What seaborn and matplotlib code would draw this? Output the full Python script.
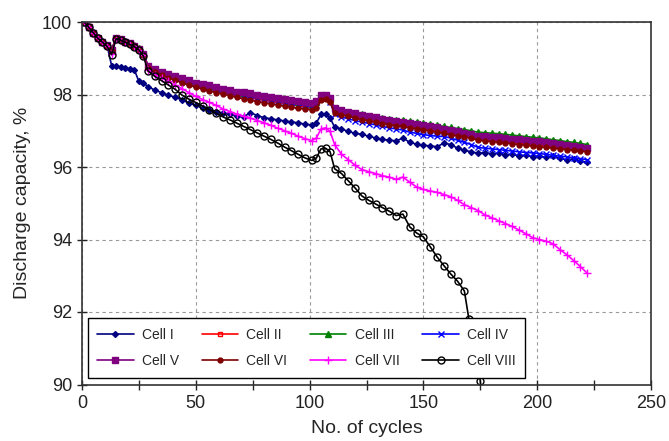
import numpy as np
import pandas as pd
import matplotlib
matplotlib.use("Agg")
import matplotlib.pyplot as plt
import seaborn as sns
from matplotlib.ticker import MultipleLocator

# ---------------- data ----------------
cycles = [1, 3, 5, 7, 9, 11, 13, 15, 17, 19, 21, 23, 25, 27,
          29, 32, 35, 38, 41, 44, 47, 50, 53, 56, 59, 62, 65, 68, 71, 74, 77, 80, 83, 86, 89, 92, 95, 98, 101,
          103, 105, 107, 109, 111,
          114, 117, 120, 123, 126, 129, 132, 135, 138, 141, 144, 147, 150, 153, 156, 159, 162, 165, 168,
          171, 174, 177, 180, 183, 186, 189, 192, 195, 198, 201, 204, 207, 210, 213, 216, 219, 222]

cycles_viii = [1, 3, 5, 7, 9, 11, 13, 15, 17, 19, 21, 23, 25, 27,
               29, 32, 35, 38, 41, 44, 47, 50, 53, 56, 59, 62, 65, 68, 71, 74, 77, 80, 83, 86, 89, 92, 95, 98, 101,
               103, 105, 107, 109, 111,
               114, 117, 120, 123, 126, 129, 132, 135, 138, 141, 144, 147, 150, 153, 156, 159, 162, 165, 168,
               170, 172, 173, 174, 175, 176]

cell_i = [100.0, 99.86, 99.71, 99.57, 99.46, 99.36, 98.80, 98.78, 98.76, 98.73, 98.71, 98.68, 98.36, 98.31,
          98.22, 98.12, 98.05, 97.98, 97.92, 97.85, 97.76, 97.70, 97.63, 97.58, 97.53, 97.49, 97.45, 97.40, 97.38,
          97.50, 97.42, 97.36, 97.33, 97.30, 97.27, 97.24, 97.22, 97.18, 97.16,
          97.22, 97.45, 97.47, 97.35, 97.10,
          97.05, 96.98, 96.93, 96.90, 96.85, 96.80, 96.76, 96.74, 96.72, 96.80, 96.68, 96.63, 96.60, 96.58, 96.56,
          96.66, 96.62, 96.52, 96.46, 96.42, 96.38, 96.40, 96.36, 96.38, 96.33, 96.35, 96.31, 96.32, 96.28, 96.30,
          96.27, 96.29, 96.24, 96.20, 96.22, 96.16, 96.13]

cell_ii = [100.0, 99.86, 99.71, 99.56, 99.46, 99.36, 99.22, 99.56, 99.52, 99.46, 99.41, 99.35, 99.26, 99.11,
           98.77, 98.67, 98.58, 98.51, 98.44, 98.37, 98.31, 98.25, 98.20, 98.16, 98.11, 98.07, 98.03, 97.98, 97.95,
           97.92, 97.87, 97.84, 97.81, 97.78, 97.75, 97.72, 97.69, 97.66, 97.64,
           97.68, 97.92, 97.93, 97.83, 97.55,
           97.48, 97.44, 97.39, 97.35, 97.31, 97.28, 97.25, 97.22, 97.19, 97.16, 97.12, 97.09, 97.06, 97.03, 97.00,
           96.97, 96.93, 96.90, 96.86, 96.82, 96.78, 96.76, 96.74, 96.72, 96.70, 96.68, 96.66, 96.64, 96.62, 96.60,
           96.58, 96.56, 96.54, 96.52, 96.50, 96.49, 96.47]

cell_iii = [100.0, 99.87, 99.72, 99.58, 99.47, 99.37, 99.23, 99.57, 99.53, 99.47, 99.42, 99.36, 99.27, 99.13,
            98.79, 98.70, 98.62, 98.56, 98.49, 98.44, 98.38, 98.32, 98.28, 98.24, 98.19, 98.15, 98.12, 98.07, 98.05,
            98.03, 97.98, 97.96, 97.92, 97.89, 97.87, 97.84, 97.80, 97.78, 97.75,
            97.80, 97.97, 97.98, 97.88, 97.62,
            97.58, 97.53, 97.49, 97.45, 97.42, 97.39, 97.36, 97.33, 97.31, 97.29, 97.26, 97.23, 97.21, 97.18, 97.15,
            97.12, 97.09, 97.06, 97.03, 97.00, 96.96, 96.95, 96.93, 96.92, 96.90, 96.88, 96.86, 96.84, 96.82, 96.80,
            96.78, 96.75, 96.73, 96.70, 96.68, 96.65, 96.62]

cell_iv = [100.0, 99.86, 99.71, 99.57, 99.46, 99.36, 99.22, 99.56, 99.52, 99.46, 99.41, 99.35, 99.26, 99.12,
           98.78, 98.68, 98.60, 98.53, 98.46, 98.40, 98.34, 98.28, 98.23, 98.19, 98.14, 98.10, 98.06, 98.02, 97.99,
           97.96, 97.91, 97.88, 97.85, 97.82, 97.79, 97.76, 97.72, 97.70, 97.67,
           97.70, 97.90, 97.92, 97.80, 97.45,
           97.38, 97.33, 97.28, 97.24, 97.20, 97.16, 97.12, 97.08, 97.05, 97.02, 96.96, 96.93, 96.89, 96.87, 96.85,
           96.84, 96.80, 96.74, 96.68, 96.62, 96.54, 96.52, 96.50, 96.48, 96.46, 96.44, 96.42, 96.40, 96.39, 96.37,
           96.35, 96.32, 96.30, 96.28, 96.25, 96.23, 96.20]

cell_v = [100.0, 99.86, 99.71, 99.57, 99.46, 99.36, 99.22, 99.56, 99.52, 99.46, 99.41, 99.35, 99.26, 99.12,
          98.80, 98.71, 98.63, 98.57, 98.50, 98.45, 98.39, 98.33, 98.29, 98.25, 98.20, 98.16, 98.13, 98.08, 98.06,
          98.04, 97.99, 97.97, 97.93, 97.90, 97.88, 97.85, 97.81, 97.79, 97.76,
          97.82, 97.98, 97.99, 97.90, 97.63,
          97.57, 97.52, 97.48, 97.44, 97.40, 97.37, 97.33, 97.30, 97.28, 97.25, 97.22, 97.19, 97.16, 97.12, 97.09,
          97.05, 97.01, 96.98, 96.94, 96.90, 96.86, 96.85, 96.83, 96.82, 96.80, 96.78, 96.76, 96.75, 96.73, 96.71,
          96.68, 96.66, 96.63, 96.60, 96.58, 96.55, 96.52]

cell_vi = [100.0, 99.85, 99.70, 99.56, 99.45, 99.35, 99.21, 99.55, 99.51, 99.45, 99.40, 99.34, 99.25, 99.10,
           98.74, 98.63, 98.54, 98.46, 98.39, 98.32, 98.26, 98.20, 98.15, 98.10, 98.05, 98.01, 97.97, 97.92, 97.88,
           97.85, 97.80, 97.77, 97.74, 97.71, 97.68, 97.65, 97.62, 97.60, 97.58,
           97.62, 97.86, 97.88, 97.78, 97.50,
           97.44, 97.40, 97.35, 97.31, 97.27, 97.24, 97.20, 97.17, 97.14, 97.12, 97.08, 97.05, 97.03, 96.99, 96.96,
           96.93, 96.89, 96.86, 96.83, 96.79, 96.74, 96.72, 96.70, 96.68, 96.66, 96.64, 96.62, 96.60, 96.58, 96.56,
           96.54, 96.52, 96.50, 96.48, 96.46, 96.44, 96.42]

cell_vii = [100.0, 99.85, 99.70, 99.55, 99.44, 99.33, 99.12, 99.54, 99.50, 99.44, 99.39, 99.33, 99.24, 99.08,
            98.68, 98.55, 98.45, 98.36, 98.26, 98.16, 98.05, 97.95, 97.86, 97.78, 97.70, 97.60, 97.53, 97.46, 97.40,
            97.35, 97.28, 97.22, 97.15, 97.07, 97.00, 96.93, 96.85, 96.78, 96.73,
            96.80, 97.05, 97.08, 96.98, 96.62,
            96.35, 96.20, 96.05, 95.93, 95.87, 95.82, 95.76, 95.72, 95.66, 95.72, 95.58, 95.45, 95.38, 95.34, 95.30,
            95.24, 95.18, 95.08, 94.96, 94.88, 94.80, 94.68, 94.60, 94.52, 94.44, 94.36, 94.26, 94.16, 94.05, 94.00,
            93.95, 93.88, 93.72, 93.58, 93.42, 93.25, 93.07]

cell_viii = [100.0, 99.85, 99.70, 99.55, 99.44, 99.33, 99.10, 99.54, 99.50, 99.44, 99.38, 99.32, 99.23, 99.06,
             98.65, 98.50, 98.38, 98.26, 98.14, 97.98, 97.87, 97.78, 97.68, 97.58, 97.48, 97.38, 97.30, 97.21, 97.12,
             97.03, 96.94, 96.85, 96.76, 96.66, 96.55, 96.45, 96.35, 96.25, 96.18,
             96.25, 96.50, 96.52, 96.42, 95.95,
             95.82, 95.62, 95.42, 95.20, 95.08, 94.98, 94.88, 94.78, 94.66, 94.70, 94.35, 94.18, 94.07, 93.80, 93.52,
             93.28, 93.05, 92.85, 92.58,
             91.80, 91.25, 90.75, 90.45, 90.10, 89.20]

labels = ["Cell I", "Cell II", "Cell III", "Cell IV", "Cell V", "Cell VI", "Cell VII", "Cell VIII"]
x_ticks = [0, 50, 100, 150, 200, 250]
y_ticks = [90, 92, 94, 96, 98, 100]

series = [cell_i, cell_ii, cell_iii, cell_iv, cell_v, cell_vi, cell_vii, cell_viii]
xs = [cycles] * 7 + [cycles_viii]

frames = []
for lab, x, y in zip(labels, xs, series):
    frames.append(pd.DataFrame({"cycle": x, "capacity": y, "cell": lab}))
df = pd.concat(frames, ignore_index=True)

# ---------------- style ----------------
sns.set_style("white")
plt.rcParams["font.family"] = ["Liberation Sans", "DejaVu Sans"]

styles = {
    "Cell I":    dict(color="#000080", marker="D", ms=3.0, mfc="#000080", mec="#000080"),
    "Cell II":   dict(color="#FF0000", marker="s", ms=3.5, mfc="none", mec="#FF0000"),
    "Cell III":  dict(color="#008000", marker="^", ms=4.0, mfc="#008000", mec="#008000"),
    "Cell IV":   dict(color="#0000FF", marker="x", ms=4.0, mfc="#0000FF", mec="#0000FF"),
    "Cell V":    dict(color="#800080", marker="s", ms=4.0, mfc="#800080", mec="#800080"),
    "Cell VI":   dict(color="#800000", marker="o", ms=3.5, mfc="#800000", mec="#800000"),
    "Cell VII":  dict(color="#FF00FF", marker="+", ms=6.0, mfc="#FF00FF", mec="#FF00FF"),
    "Cell VIII": dict(color="#000000", marker="o", ms=5.0, mfc="none", mec="#000000"),
}

fig = plt.figure(figsize=(6.69, 4.41), dpi=100)
ax = fig.add_axes([82 / 669, 1 - 384.5 / 441, (651 - 82) / 669, (384.5 - 22) / 441])

for lab in labels:
    st = styles[lab]
    sub = df[df["cell"] == lab]
    sns.lineplot(data=sub, x="cycle", y="capacity", ax=ax, estimator=None, sort=False,
                 color=st["color"], marker=st["marker"], markersize=st["ms"],
                 markerfacecolor=st["mfc"], markeredgecolor=st["mec"], markeredgewidth=1.0,
                 linewidth=1.2, label=lab)

ax.set_xlim(0, 250)
ax.set_ylim(90, 100)
ax.set_xticks(x_ticks)
ax.set_yticks(y_ticks)
ax.xaxis.set_minor_locator(MultipleLocator(25))
ax.grid(True, which="major", linestyle=(0, (3, 3)), color="#9a9a9a", linewidth=0.8)
ax.set_axisbelow(True)

for sp in ax.spines.values():
    sp.set_color("#333333")
    sp.set_linewidth(1.2)
    sp.set_visible(True)

ax.tick_params(axis="both", which="major", direction="inout", length=7, width=1.0,
               labelsize=13, colors="#222222", bottom=True, left=True)
ax.tick_params(axis="x", which="minor", direction="inout", length=7, width=1.0, bottom=True)
ax.tick_params(axis="x", pad=4)
ax.set_xlabel("No. of cycles", fontsize=14, labelpad=6)
ax.set_ylabel("Discharge capacity, %", fontsize=14, labelpad=8)

# legend filled row-wise (4 per row) like the reference
handles, labs = ax.get_legend_handles_labels()
order = [0, 4, 1, 5, 2, 6, 3, 7]
leg = ax.legend([handles[i] for i in order], [labs[i] for i in order],
                loc="lower left", bbox_to_anchor=(0.01, 0.018), ncol=4, fontsize=10,
                frameon=True, fancybox=False, edgecolor="black", framealpha=1,
                borderaxespad=0, handlelength=2.6, columnspacing=1.65, handletextpad=0.6,
                borderpad=0.7, labelspacing=0.9)
leg.get_frame().set_linewidth(1.0)

fig.savefig("out.png", dpi=100)
